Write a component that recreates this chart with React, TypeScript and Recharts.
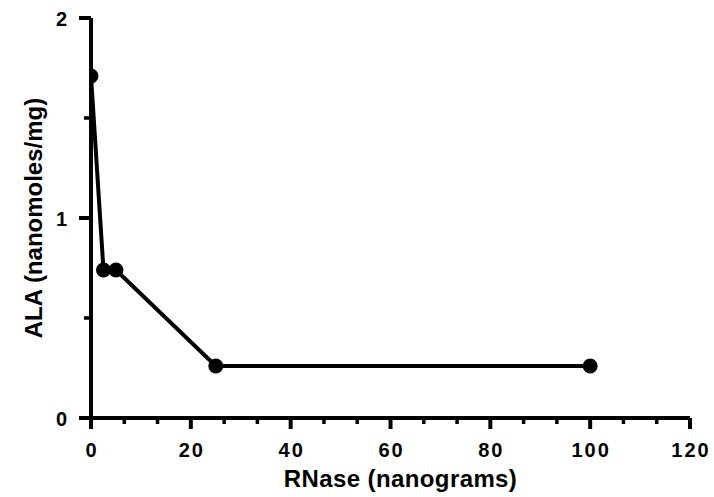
import React from 'react';
import { LineChart, Line, XAxis, YAxis, Label } from 'recharts';

// Data
const rnaseNg = [0, 2.5, 5, 25, 100];
const alaValues = [1.71, 0.74, 0.74, 0.26, 0.26];

// Axis ticks (major labelled, minor unlabelled)
const xTicks = [0, 6.67, 13.33, 20, 26.67, 33.33, 40, 46.67, 53.33, 60, 66.67, 73.33, 80, 86.67, 93.33, 100, 106.67, 113.33, 120];
const xMajor = [0, 20, 40, 60, 80, 100, 120];
const yTicks = [0, 0.5, 1, 1.5, 2];
const yMajor = [0, 1, 2];

const xTitle = 'RNase (nanograms)';
const yTitle = 'ALA (nanomoles/mg)';

const data = rnaseNg.map((x, i) => ({ x, y: alaValues[i] }));

const FONT = '"Liberation Sans", Arial, Helvetica, sans-serif';

const XTick = (props: any) => {
  const { x, y, payload } = props;
  const v = payload.value;
  const major = xMajor.includes(v);
  return (
    <g>
      <line x1={x} x2={x} y1={y} y2={y + (major ? 11 : 6)} stroke="#000" strokeWidth={major ? 4 : 3.5} />
      {major && (
        <text x={x + 1} y={y + 39} textAnchor="middle" fontSize={20} fontWeight={700} letterSpacing={2} fontFamily={FONT} fill="#000">
          {v}
        </text>
      )}
    </g>
  );
};

const YTick = (props: any) => {
  const { x, y, payload } = props;
  const v = payload.value;
  const major = yMajor.includes(v);
  return (
    <g>
      <line x1={x - (major ? 12 : 7)} x2={x} y1={y} y2={y} stroke="#000" strokeWidth={major ? 4 : 3.5} />
      {major && (
        <text x={x - 24} y={y + 8} textAnchor="end" fontSize={20} fontWeight={700} fontFamily={FONT} fill="#000">
          {v}
        </text>
      )}
    </g>
  );
};

const XTitle = (props: any) => {
  const vb = props.viewBox || {};
  return (
    <text x={vb.x + vb.width / 2 + 10} y={vb.y + 69} textAnchor="middle" fontSize={24} fontWeight={700} letterSpacing={0.4} fontFamily={FONT} fill="#000">
      {xTitle}
    </text>
  );
};

const YTitle = (props: any) => {
  const vb = props.viewBox || {};
  const cx = 34;
  const cy = vb.y + vb.height / 2;
  return (
    <text x={cx} y={cy} transform={`rotate(-90 ${cx} ${cy})`} textAnchor="middle" fontSize={24} fontWeight={700} fontFamily={FONT} fill="#000">
      {yTitle}
    </text>
  );
};

export default function App() {
  return (
    <div style={{ position: 'absolute', left: 8, top: 8, background: '#fff' }}>
      <LineChart width={706} height={489} data={data} margin={{ top: 10, right: 24, bottom: 0, left: 0 }}>
        <XAxis
          type="number"
          dataKey="x"
          domain={[0, 120]}
          ticks={xTicks}
          interval={0}
          tickSize={0}
          tickMargin={0}
          tick={<XTick />}
          tickLine={false}
          axisLine={{ stroke: '#000', strokeWidth: 4 }}
          height={79}
          allowDataOverflow
        >
          <Label content={<XTitle />} />
        </XAxis>
        <YAxis
          type="number"
          domain={[0, 2]}
          ticks={yTicks}
          interval={0}
          tickSize={0}
          tickMargin={0}
          tick={<YTick />}
          tickLine={false}
          axisLine={{ stroke: '#000', strokeWidth: 4 }}
          width={83}
          allowDataOverflow
        >
          <Label content={<YTitle />} />
        </YAxis>
        <Line
          type="linear"
          dataKey="y"
          stroke="#000"
          strokeWidth={4}
          dot={{ r: 7.5, fill: '#000', stroke: '#000', strokeWidth: 0 }}
          isAnimationActive={false}
        />
      </LineChart>
    </div>
  );
}
